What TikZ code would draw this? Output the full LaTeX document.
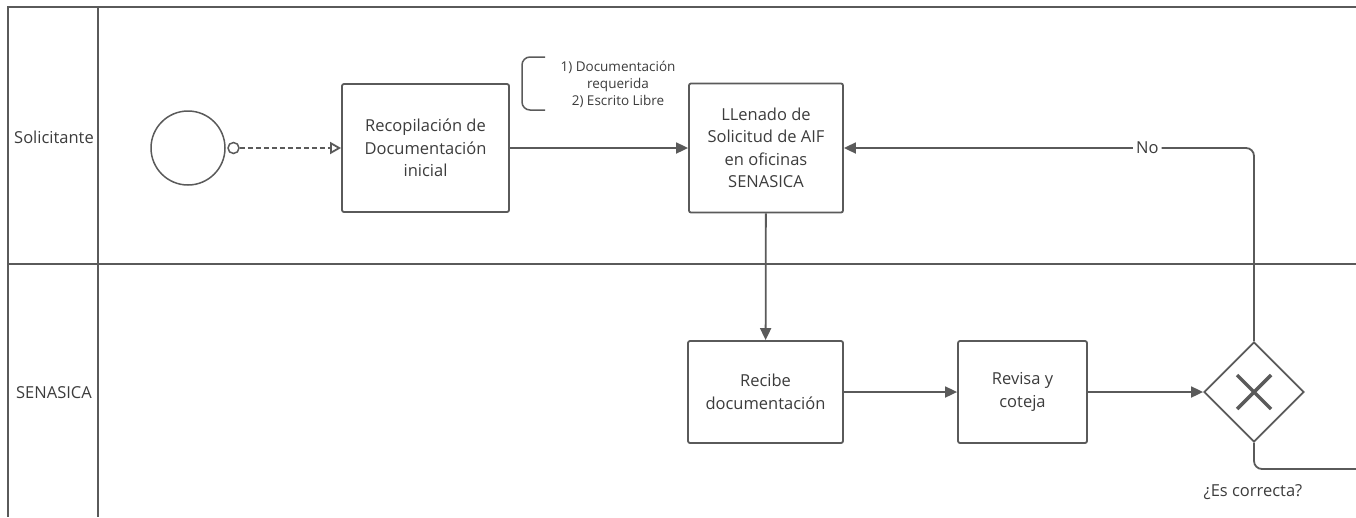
\documentclass[tikz,border=0pt]{standalone}
\usepackage{fontspec}
\setmainfont{Open Sans}
\usetikzlibrary{arrows.meta,shapes.geometric}
\definecolor{linegray}{HTML}{5A5A5A}
\definecolor{textgray}{HTML}{3C3C3C}

\begin{document}
\begin{tikzpicture}[
            x=1pt, y=-1pt,
            >={Triangle[length=12pt,width=11pt]},
            lane/.style={draw=linegray, line width=2.2pt},
            task/.style={draw=linegray, line width=1.8pt, rounded corners=2pt, align=center, text=textgray, font=\fontsize{16.5}{22.5}\selectfont},
            flow/.style={draw=linegray, line width=1.8pt, ->},
            lbl/.style={text=textgray, font=\fontsize{16.5}{19}\selectfont},
            note/.style={text=textgray, align=center, font=\fontsize{13.5}{17}\selectfont}
        ]
           \useasboundingbox (0,0) rectangle (1356,517);

           \draw[lane] (1356,7) -- (8,7) -- (8,517);
           \draw[lane] (98,7) -- (98,517);
           \draw[lane] (8,264) -- (1356,264);
           \node[lbl] (solicitante) at (54,137) {Solicitante};
           \node[lbl] (senasica) at (54,393) {SENASICA};

           \node[draw=linegray, line width=1.5pt, circle, minimum size=74pt, inner sep=0pt] (start) at (188,148) {};
           \node[draw=linegray, line width=1.5pt, circle, fill=white, minimum size=11pt, inner sep=0pt] (startdot) at (233.5,148) {};

           \node[task, minimum width=167pt, minimum height=128pt] (recopilacion) at (425.5,148) {Recopilación de\\Documentación\\inicial};
           \node[task, minimum width=154pt, minimum height=129pt] (llenado) at (766,148) {LLenado de\\Solicitud de AIF\\en oficinas\\SENASICA};
           \node[task, minimum width=155pt, minimum height=102pt] (recibe) at (765.5,392) {Recibe\\documentación};
           \node[task, minimum width=129pt, minimum height=102pt] (revisa) at (1022.5,392) {Revisa y\\coteja};
           \node[diamond, draw=linegray, line width=1.8pt, minimum size=100pt, inner sep=0pt] (gw) at (1254,392) {};
           \draw[linegray, line width=3.5pt] (1237,375) -- (1271,409) (1271,375) -- (1237,409);
           \node[lbl] (correcta) at (1253,492) {¿Es correcta?};
           \coordinate (exit) at (1356,469);

           \node[note] (docs) at (618,84) {1) Documentación\\requerida\\2) Escrito Libre};
           \draw[linegray, line width=1.5pt, rounded corners=8pt] (545,57) -| (522,110) -- (545,110);

           \draw[draw=linegray, line width=1.8pt, dash pattern=on 5pt off 3pt, -{Triangle[open, length=11pt, width=12pt]}] (startdot) -- (recopilacion);
           \draw[flow] (recopilacion) -- (llenado);
           \draw[flow] (llenado) -- (recibe);
           \draw[flow] (recibe) -- (revisa);
           \draw[flow] (revisa) -- (gw);
           \draw[flow, rounded corners=8pt] (gw.north) |- node[pos=0.63, lbl, fill=white, inner sep=3pt] (no) {No} (llenado.east);
           \draw[draw=linegray, line width=1.8pt, rounded corners=8pt] (gw.south) |- (exit);
        \end{tikzpicture}
\end{document}
